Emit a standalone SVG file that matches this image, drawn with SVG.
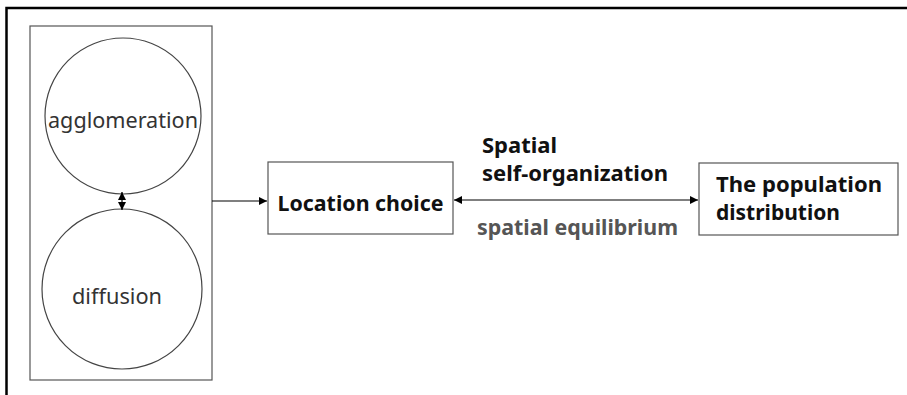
<svg xmlns="http://www.w3.org/2000/svg" width="907" height="395" viewBox="0 0 907 395">
<defs>
<style>
.box{fill:#fff;stroke:#555;stroke-width:1.2}
.circ{fill:#fff;stroke:#444;stroke-width:1.2}
.conn{stroke:#000;stroke-width:1.2;fill:none}
.lbl{font-family:"Noto Sans","Open Sans",sans-serif;font-weight:bold;font-size:21px;fill:#111}
.thin{font-family:"Noto Sans","Open Sans",sans-serif;font-size:21px;fill:#333}
</style>
<marker id="ah" viewBox="0 0 10 10" refX="10" refY="5" markerWidth="8" markerHeight="8" markerUnits="userSpaceOnUse" orient="auto-start-reverse">
<path d="M0,0 L10,5 L0,10 z" fill="#000"/>
</marker>
</defs>
<rect width="907" height="395" fill="#fff"/>
<g id="frame">
<path d="M6.5,395 V8 H907" stroke="#000" stroke-width="2.5" fill="none"/>
</g>
<g id="group-box">
<rect class="box" x="30" y="26" width="182" height="354"/>
</g>
<g id="agglomeration">
<circle class="circ" cx="123" cy="116" r="78"/>
<text class="thin" x="123" y="128" text-anchor="middle" textLength="150" lengthAdjust="spacingAndGlyphs">agglomeration</text>
</g>
<g id="diffusion">
<circle class="circ" cx="122" cy="289" r="80"/>
<text class="thin" x="117" y="304" text-anchor="middle" textLength="90" lengthAdjust="spacingAndGlyphs">diffusion</text>
</g>
<g id="location">
<rect class="box" x="268" y="162" width="185" height="72"/>
<text class="lbl" x="360.5" y="211" text-anchor="middle" textLength="166" lengthAdjust="spacingAndGlyphs">Location choice</text>
</g>
<g id="population">
<rect class="box" x="699" y="163" width="199" height="72"/>
<text class="lbl" x="716" y="192" textLength="166" lengthAdjust="spacingAndGlyphs">The population</text>
<text class="lbl" x="716" y="220" textLength="124" lengthAdjust="spacingAndGlyphs">distribution</text>
</g>
<g id="connectors">
<line class="conn" x1="122" y1="192" x2="122" y2="210" marker-start="url(#ah)" marker-end="url(#ah)"/>
<line class="conn" x1="212" y1="201" x2="267" y2="201" marker-end="url(#ah)"/>
<line class="conn" x1="454" y1="200" x2="698" y2="200" marker-start="url(#ah)" marker-end="url(#ah)"/>
</g>
<g id="labels">
<text class="lbl" x="482" y="153" textLength="75" lengthAdjust="spacingAndGlyphs">Spatial</text>
<text class="lbl" x="482" y="181" textLength="186" lengthAdjust="spacingAndGlyphs">self-organization</text>
<text class="lbl" x="477" y="235" style="fill:#555" textLength="201" lengthAdjust="spacingAndGlyphs">spatial equilibrium</text>
</g>
</svg>
